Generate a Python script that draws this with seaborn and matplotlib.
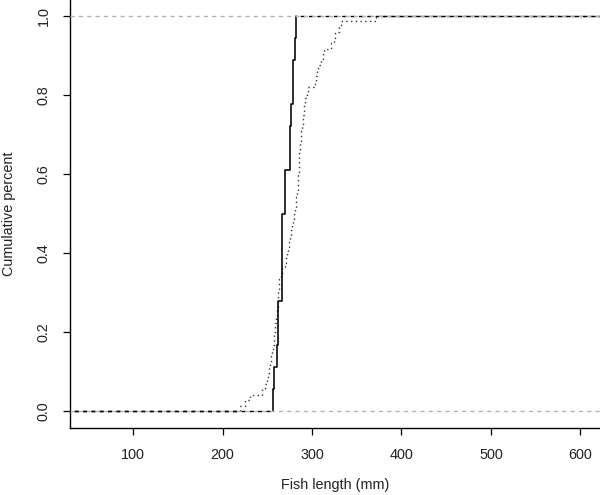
import numpy as np
import pandas as pd
import matplotlib
matplotlib.use("Agg")
import matplotlib.pyplot as plt
import seaborn as sns

# Fish lengths (mm), group 1 (solid ECDF)
group_solid = [256, 258, 261, 262, 262, 266, 266, 266, 267, 270, 270,
               275, 275, 277, 279, 279, 281, 282]
# Fish lengths (mm), group 2 (dotted ECDF)
group_dotted = [219, 225, 231, 244, 248,
                250, 251, 252, 253,
                254, 255, 256, 257,
                258, 259, 259, 260, 261,
                261, 262, 262, 262, 263, 263,
                265, 266, 270,
                271, 272, 273, 274,
                276, 277,
                278, 279, 280, 281,
                282, 282, 283,
                284, 284, 284, 285, 285, 285, 286,
                287, 287, 288, 288, 289,
                290, 290, 291, 291, 292,
                294, 296, 303,
                305, 306, 307,
                310, 312, 313,
                321, 325, 326, 330, 332, 372]

x_ticks = [100, 200, 300, 400, 500, 600]
y_ticks = [0.0, 0.2, 0.4, 0.6, 0.8, 1.0]
x_label = "Fish length (mm)"
y_label = "Cumulative percent"

sns.set_style("white")
plt.rcParams['font.family'] = ['Liberation Sans', 'DejaVu Sans']

fig = plt.figure(figsize=(6.0, 4.95), dpi=100)
ax = fig.add_axes([70 / 600, (495 - 428.3) / 495, 530 / 600, 428.3 / 495])

xlim = (29.5, 622)
ylim = (-0.043, 1.04)

solid_style = dict(color="black", linewidth=1.15)
dotted_style = dict(color="#333333", linewidth=1.0, linestyle=(0, (1, 2.4)))

sns.ecdfplot(x=group_dotted, ax=ax, **dotted_style)
sns.ecdfplot(x=group_solid, ax=ax, **solid_style)

# extend ECDFs horizontally to the plot edges (as R's plot.ecdf does);
# the gray dashed 0/1 lines drawn over them give a black/gray dashed look
ext_style = dict(color="black", linewidth=1.0, linestyle=(3, (3, 3)))
for data in (group_dotted, group_solid):
    ax.hlines(0, xlim[0], min(data), **ext_style)
    ax.hlines(1, max(data), xlim[1], **ext_style)

# gray dashed reference lines at 0 and 1
for yv in (0, 1):
    ax.axhline(yv, color="#b3b3b3", linewidth=1.0, linestyle=(0, (3, 3)), zorder=5)

ax.set_xlim(*xlim)
ax.set_ylim(*ylim)
ax.set_xticks(x_ticks)
ax.set_xticklabels([str(v) for v in x_ticks])
ax.set_yticks(y_ticks)
ax.set_yticklabels([f"{v:.1f}" for v in y_ticks], rotation=90, va="center")

for s in ["top", "right"]:
    ax.spines[s].set_visible(False)
for s in ["left", "bottom"]:
    ax.spines[s].set_color("black")
    ax.spines[s].set_linewidth(1.0)

ax.tick_params(axis="both", direction="out", length=5, width=0.9, colors="black",
               labelsize=10.4, labelcolor="#222222", pad=9, left=True, bottom=True)

ax.set_xlabel(x_label, fontsize=10.4, color="#222222", labelpad=12)
ax.set_ylabel(y_label, fontsize=10.4, color="#222222", labelpad=15)

fig.savefig("out.png", dpi=100)
